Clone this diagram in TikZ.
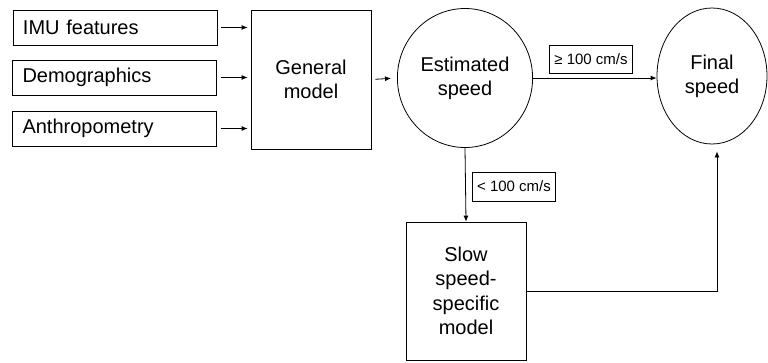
\documentclass[tikz,border=0pt]{standalone}
\usepackage{fontspec}
\setmainfont{Liberation Sans}
\usetikzlibrary{shapes.geometric}
\usetikzlibrary{arrows.meta}

\begin{document}
\begin{tikzpicture}[x=1pt,y=-1pt,line width=0.8pt,
  >={Latex[length=6pt,width=5pt]},
  inbox/.style={draw,rectangle,minimum height=35pt,text width=184pt,inner xsep=10pt,align=left,font=\fontsize{20}{24}\selectfont},
  modelbox/.style={draw,rectangle,minimum width=120pt,align=center,font=\fontsize{20}{24.5}\selectfont},
  speed/.style={draw,ellipse,align=center,font=\fontsize{20}{24}\selectfont},
  cond/.style={draw,rectangle,minimum height=28pt,inner xsep=5pt,font=\fontsize{15}{17}\selectfont},
  link/.style={->,shorten <=4pt,shorten >=3pt}]
\useasboundingbox (0,0) rectangle (768,362);
\node[inbox] (imu) at (115,27.5) {IMU features};
\node[inbox] (demo) at (114.5,77.5) {Demographics};
\node[inbox] (anthro) at (114.5,128.5) {Anthropometry};
\node[modelbox,minimum height=139pt] (general) at (311,79.5) {General\\model};
\node[speed,minimum width=120pt,minimum height=139pt] (est) at (465,78) {Estimated\\speed};
\node[speed,minimum width=110pt,minimum height=136pt] (final) at (712,76) {Final\\speed};
\node[modelbox,minimum height=138pt] (slow) at (466,291) {Slow\\speed-\\specific\\model};
\node[cond] (fast) at (591,59) {≥ 100 cm/s};
\node[cond,minimum height=29pt] (low) at (514,186.5) {< 100 cm/s};
\draw[link] (imu.east) -- (imu.east -| general.west);
\draw[link] (demo.east) -- (demo.east -| general.west);
\draw[link] (anthro.east) -- (anthro.east -| general.west);
\draw[link,shorten >=6pt] (general.east) -- (est.west);
\draw[->] (est.east) -- (est.east -| final.west);
\draw[->] (est.south) -- (slow.north);
\draw[->,shorten >=7pt] (slow.east) -| ([xshift=5pt]final.south);
\end{tikzpicture}
\end{document}
